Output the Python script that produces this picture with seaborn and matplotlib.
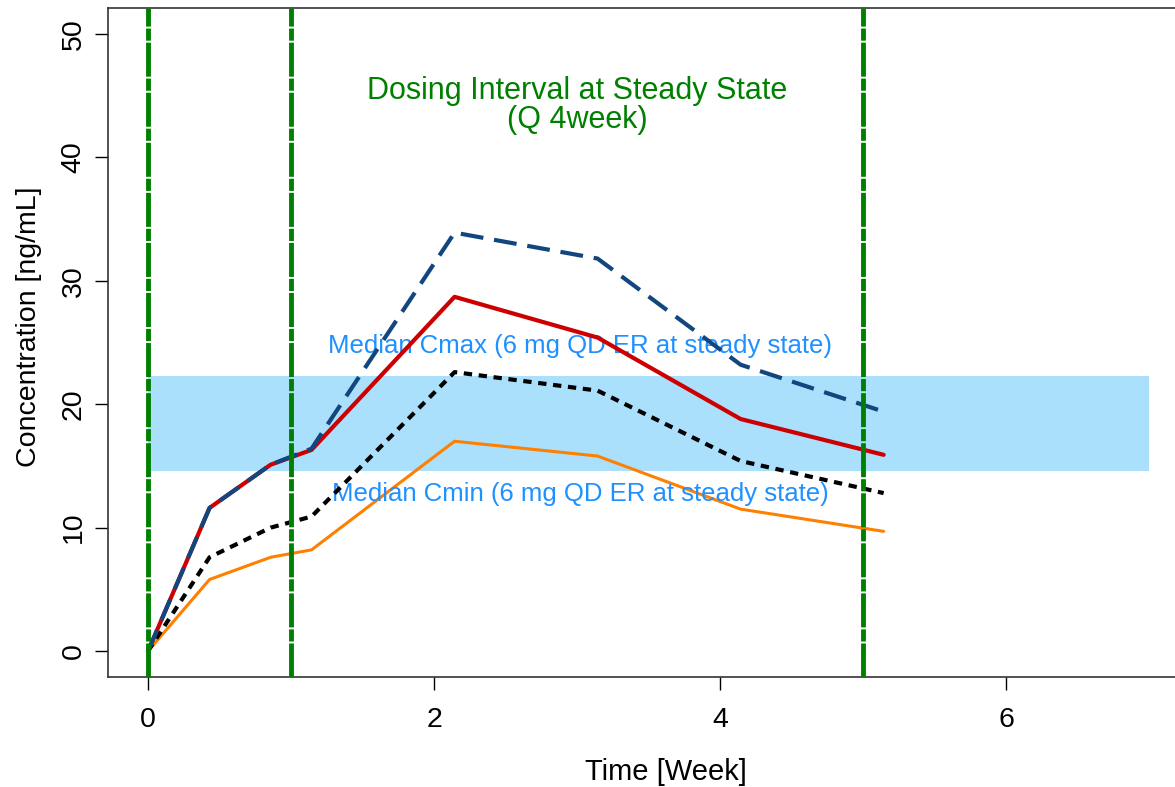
import numpy as np
import pandas as pd
import matplotlib
matplotlib.use("Agg")
import matplotlib.pyplot as plt
import seaborn as sns

# time points (weeks) and concentration profiles (ng/mL)
time_week = [0, 0.43, 0.857, 1.143, 2.143, 3.143, 4.143, 5.143]
conc_blue = [0.0, 11.6, 15.1, 16.4, 33.9, 31.8, 23.2, 19.4]
conc_red = [0.0, 11.6, 15.1, 16.3, 28.7, 25.4, 18.8, 15.9]
conc_black = [0.0, 7.6, 10.0, 10.9, 22.6, 21.1, 15.4, 12.8]
conc_orange = [0.0, 5.8, 7.6, 8.2, 17.0, 15.8, 11.5, 9.7]

dosing_lines = [0, 1, 5]
cmin_median = 14.6
cmax_median = 22.3
band_x = [0, 7]

sns.set_theme(style="white")
plt.rcParams['font.family'] = ['Liberation Sans', 'DejaVu Sans']

fig = plt.figure(figsize=(11.75, 7.87), dpi=100)
ax = fig.add_axes([108 / 1175, 110 / 787, 1 - 108 / 1175, 669 / 787])

# reference band between median Cmin and Cmax
ax.fill_between(band_x, cmin_median, cmax_median, color="#aae0fc", lw=0, zorder=1)

sns.lineplot(x=time_week, y=conc_orange, color="#ff8000", lw=2.2, ax=ax, zorder=3)
black = sns.lineplot(x=time_week, y=conc_black, color="black", lw=3, ax=ax, zorder=4)
black.lines[-1].set_dashes([2, 1.6])
sns.lineplot(x=time_week, y=conc_red, color="#cc0000", lw=3, ax=ax, zorder=5)
blue = sns.lineplot(x=time_week, y=conc_blue, color="#12467f", lw=3, ax=ax, zorder=6)
blue.lines[-1].set_dashes([5.5, 2.6])

for xv in dosing_lines:
    ax.axvline(xv, color="#008000", lw=3.5, zorder=7, dashes=[7, 0.4, 2.5, 0.4])

ax.text(3.0, 44.2, "Dosing Interval at Steady State\n(Q 4week)", color="#008000",
        ha="center", va="center", fontsize=22, linespacing=0.95)
ax.text(3.02, 24.7, "Median Cmax (6 mg QD ER at steady state)", color="#1e90ff",
        ha="center", va="center", fontsize=18.5)
ax.text(3.02, 12.7, "Median Cmin (6 mg QD ER at steady state)", color="#1e90ff",
        ha="center", va="center", fontsize=18.5)

ax.set_xlim(-0.28, 7.18)
ax.set_ylim(-2.1, 52.1)
ax.set_xticks([0, 2, 4, 6])
ax.set_yticks([0, 10, 20, 30, 40, 50])
ax.tick_params(axis="both", which="both", direction="out", length=9.5, width=1,
               labelsize=20.5, colors="black", bottom=True, left=True)
ax.tick_params(axis="x", pad=12)
ax.tick_params(axis="y", pad=6)
for lab in ax.get_yticklabels():
    lab.set_rotation(90)
    lab.set_va("center")
ax.set_xlabel("Time [Week]", fontsize=21, color="black")
ax.set_ylabel("Concentration [ng/mL]", fontsize=20.5, color="black")
ax.xaxis.set_label_coords(0.523, -0.121)
ax.yaxis.set_label_coords(-0.062, 0.523)
for side in ["left", "bottom", "top"]:
    ax.spines[side].set_color("#333333")
    ax.spines[side].set_linewidth(1.2)
ax.spines["right"].set_visible(False)
ax.grid(False)

fig.savefig("out.png", dpi=100)
